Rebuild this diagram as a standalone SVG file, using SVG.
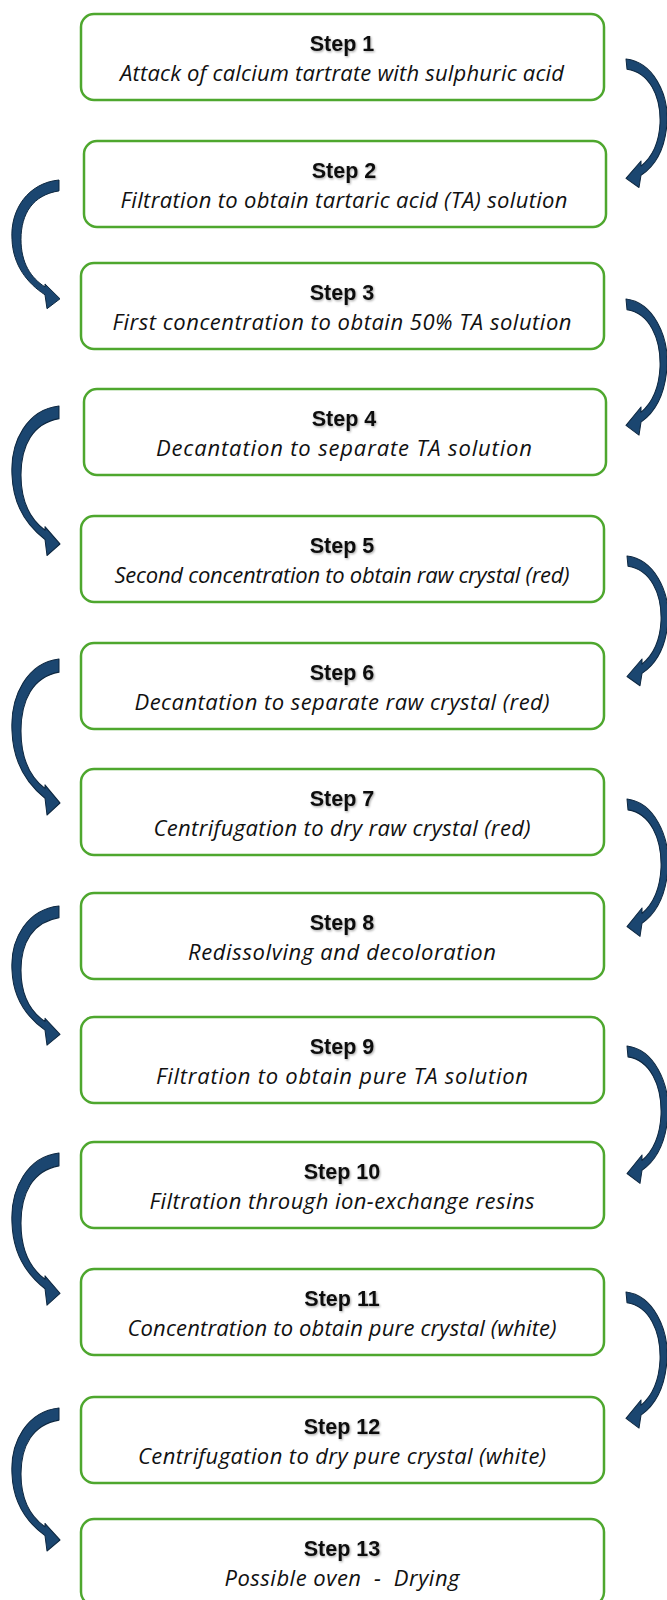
<svg xmlns="http://www.w3.org/2000/svg" xmlns:xlink="http://www.w3.org/1999/xlink" width="667" height="1600" viewBox="0 0 667 1600">
<defs>
<style>
.box{fill:#fff;stroke:#4EA72E;stroke-width:2.5}
.step{font-family:"Liberation Sans",Arial,sans-serif;font-weight:bold;font-size:21.5px;fill:#111;text-anchor:middle}
.desc{font-family:"Open Sans","Liberation Sans",sans-serif;font-style:italic;font-size:22px;fill:#111;text-anchor:middle}
.arr{fill:#1b4670;stroke:#0d2740;stroke-width:1;stroke-linejoin:round}
</style>
<filter id="sh" x="-10%" y="-30%" width="120%" height="160%">
<feDropShadow dx="1" dy="1.2" stdDeviation="0.8" flood-color="#000" flood-opacity="0.35"/>
</filter>
<path id="ra" d="M0,0 C27,3 43,34 41,63 C39,89 29,105 15,114 L13,126 L0,117 L15,100 L15,105 C25,97 33,84 34,63 C35,36 23,13 1,10 Z"/>
<path id="la" d="M0,0 C-31,3 -49,30 -47,60 C-46,86 -32,104 -14,116 L-12,130 L1,120 L-14,105 L-14,108 C-28,99 -38,84 -38,60 C-38,34 -26,15 0,11 Z"/>
</defs>
<rect width="667" height="1600" fill="#fff"/>

<g id="connectors" class="arr">
<use xlink:href="#ra" transform="translate(626,59) scale(1,1.02)"/>
<use xlink:href="#la" transform="translate(59,180) scale(1,0.99)"/>
<use xlink:href="#ra" transform="translate(626,299) scale(1,1.08)"/>
<use xlink:href="#la" transform="translate(59,406) scale(1,1.15)"/>
<use xlink:href="#ra" transform="translate(627,556) scale(1,1.03)"/>
<use xlink:href="#la" transform="translate(59,659) scale(1,1.2)"/>
<use xlink:href="#ra" transform="translate(627,799) scale(1,1.09)"/>
<use xlink:href="#la" transform="translate(59,906) scale(1,1.07)"/>
<use xlink:href="#ra" transform="translate(627,1046) scale(1,1.09)"/>
<use xlink:href="#la" transform="translate(59,1153) scale(1,1.17)"/>
<use xlink:href="#ra" transform="translate(626,1292) scale(1,1.08)"/>
<use xlink:href="#la" transform="translate(59,1408) scale(1,1.1)"/>
</g>

<g id="step1"><rect class="box" x="81" y="14" width="523" height="86" rx="13"/><text class="step" x="342" y="51" filter="url(#sh)">Step 1</text><text class="desc" x="342" y="81" textLength="444">Attack of calcium tartrate with sulphuric acid</text></g>
<g id="step2"><rect class="box" x="84" y="141" width="522" height="86" rx="13"/><text class="step" x="344" y="178" filter="url(#sh)">Step 2</text><text class="desc" x="344" y="208" textLength="447">Filtration to obtain tartaric acid (TA) solution</text></g>
<g id="step3"><rect class="box" x="81" y="263" width="523" height="86" rx="13"/><text class="step" x="342" y="300" filter="url(#sh)">Step 3</text><text class="desc" x="342" y="330" textLength="459">First concentration to obtain 50% TA solution</text></g>
<g id="step4"><rect class="box" x="84" y="389" width="522" height="86" rx="13"/><text class="step" x="344" y="426" filter="url(#sh)">Step 4</text><text class="desc" x="344" y="456" textLength="376">Decantation to separate TA solution</text></g>
<g id="step5"><rect class="box" x="81" y="516" width="523" height="86" rx="13"/><text class="step" x="342" y="553" filter="url(#sh)">Step 5</text><text class="desc" x="342" y="583" textLength="455">Second concentration to obtain raw crystal (red)</text></g>
<g id="step6"><rect class="box" x="81" y="643" width="523" height="86" rx="13"/><text class="step" x="342" y="680" filter="url(#sh)">Step 6</text><text class="desc" x="342" y="710" textLength="415">Decantation to separate raw crystal (red)</text></g>
<g id="step7"><rect class="box" x="81" y="769" width="523" height="86" rx="13"/><text class="step" x="342" y="806" filter="url(#sh)">Step 7</text><text class="desc" x="342" y="836" textLength="377">Centrifugation to dry raw crystal (red)</text></g>
<g id="step8"><rect class="box" x="81" y="893" width="523" height="86" rx="13"/><text class="step" x="342" y="930" filter="url(#sh)">Step 8</text><text class="desc" x="342" y="960" textLength="308">Redissolving and decoloration</text></g>
<g id="step9"><rect class="box" x="81" y="1017" width="523" height="86" rx="13"/><text class="step" x="342" y="1054" filter="url(#sh)">Step 9</text><text class="desc" x="342" y="1084" textLength="372">Filtration to obtain pure TA solution</text></g>
<g id="step10"><rect class="box" x="81" y="1142" width="523" height="86" rx="13"/><text class="step" x="342" y="1179" filter="url(#sh)">Step 10</text><text class="desc" x="342" y="1209" textLength="385">Filtration through ion-exchange resins</text></g>
<g id="step11"><rect class="box" x="81" y="1269" width="523" height="86" rx="13"/><text class="step" x="342" y="1306" filter="url(#sh)">Step 11</text><text class="desc" x="342" y="1336" textLength="429">Concentration to obtain pure crystal (white)</text></g>
<g id="step12"><rect class="box" x="81" y="1397" width="523" height="86" rx="13"/><text class="step" x="342" y="1434" filter="url(#sh)">Step 12</text><text class="desc" x="342" y="1464" textLength="408">Centrifugation to dry pure crystal (white)</text></g>
<g id="step13"><rect class="box" x="81" y="1519" width="523" height="86" rx="13"/><text class="step" x="342" y="1556" filter="url(#sh)">Step 13</text><text class="desc" x="342" y="1586" xml:space="preserve" textLength="235">Possible oven  -  Drying</text></g>
</svg>
